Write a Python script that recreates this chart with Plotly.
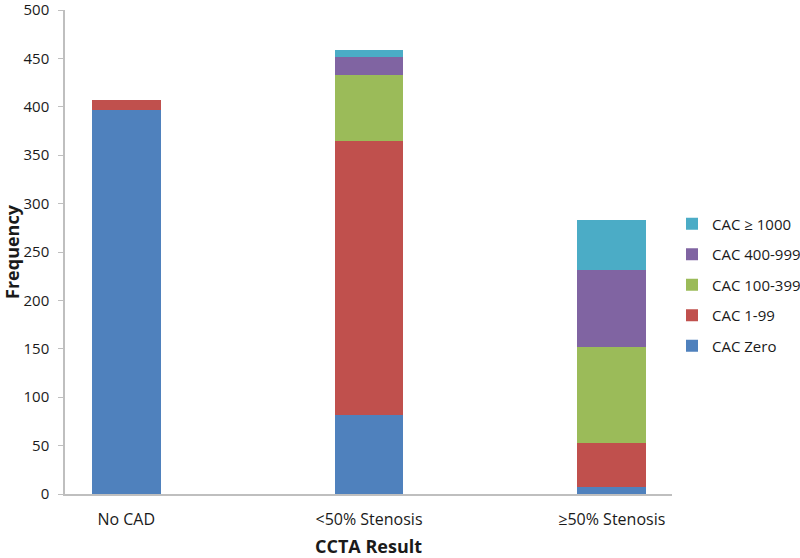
import plotly.graph_objects as go

# Data
categories = ["No CAD", "<50% Stenosis", "≥50% Stenosis"]
series_names = ["CAC Zero", "CAC 1-99", "CAC 100-399", "CAC 400-999", "CAC ≥ 1000"]
cac_zero = [397, 82, 7]
cac_1_99 = [10, 283, 46]
cac_100_399 = [0, 68, 99]
cac_400_999 = [0, 18, 79]
cac_1000 = [0, 8, 52]
y_ticks = [0, 50, 100, 150, 200, 250, 300, 350, 400, 450, 500]

COLORS = ["#4F81BD", "#C0504D", "#9BBB59", "#8064A2", "#4BACC6"]
FONT = "'Open Sans', Lato, sans-serif"
AXIS = "#BFBFBF"

fig = go.Figure()
all_series = [cac_zero, cac_1_99, cac_100_399, cac_400_999, cac_1000]
for i, (name, vals) in enumerate(zip(series_names, all_series)):
    fig.add_trace(go.Bar(
        x=list(range(len(categories))),
        y=vals,
        name=name,
        marker_color=COLORS[i],
        marker_line_width=0,
        width=0.283,
        legendgroup=f"g{i}",
        legendrank=len(series_names) - i,
    ))

fig.update_layout(
    barmode="stack",
    width=800,
    height=558,
    margin=dict(l=65, r=125, t=10, b=64),
    paper_bgcolor="white",
    plot_bgcolor="white",
    font={"family": FONT, "color": "#1a1a1a", "size": 15},
    legend={
        "xref": "container", "yref": "container",
        "x": 0.84, "y": 0.628, "xanchor": "left", "yanchor": "top",
        "tracegroupgap": 8,
        "font": {"size": 15},
        "itemwidth": 30,
    },
    xaxis={
        "tickmode": "array",
        "tickvals": list(range(len(categories))),
        "ticktext": categories,
        "range": [-0.252, 2.248],
        "showline": True, "linecolor": AXIS, "linewidth": 1.5,
        "ticks": "", "showgrid": False, "zeroline": False,
        "tickfont": {"size": 16},
        "ticklabelstandoff": 10,
        "automargin": False,
        "title": {"text": "<b>CCTA Result</b>", "font": {"size": 18}, "standoff": 22},
    },
    yaxis={
        "range": [0, 500],
        "tickvals": y_ticks,
        "showline": True, "linecolor": AXIS, "linewidth": 1.5,
        "ticks": "outside", "ticklen": 5, "tickcolor": AXIS,
        "showgrid": False, "zeroline": False,
        "tickfont": {"size": 15},
        "ticklabelstandoff": 6,
        "ticklabeloverflow": "allow",
        "automargin": False,
        "title": {"text": "<b>Frequency</b>", "font": {"size": 18}, "standoff": 10},
    },
)

# drop the browser's default body margin so the figure sits at (0, 0)
fig.write_html(
    "out.html",
    config={"displayModeBar": False},
    post_script="document.body.style.margin = '0';",
)
